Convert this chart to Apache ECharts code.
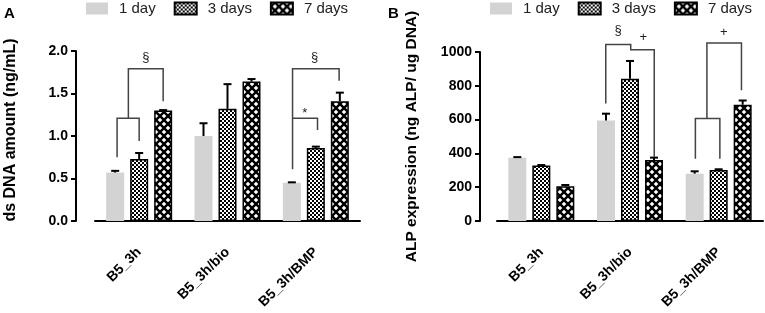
<!DOCTYPE html>
<html>
<head>
<meta charset="utf-8">
<script src="https://cdn.jsdelivr.net/npm/echarts@6/dist/echarts.min.js"></script>
<style>
  html, body { margin: 0; padding: 0; background: #fff; }
  #chart { width: 765px; height: 313px; }
</style>
</head>
<body>
<div id="chart"></div>
<script>
// categories and groups
const categories = ['B5_3h', 'B5_3h/bio', 'B5_3h/BMP'];
const groupNames = ['1 day', '3 days', '7 days'];

// panel A: ds DNA amount (ng/mL)
const dnaDay1 = [0.57, 1.00, 0.45];
const dnaDay3 = [0.73, 1.32, 0.86];
const dnaDay7 = [1.30, 1.64, 1.41];
const dnaErr1 = [0.02, 0.15, 0.005];
const dnaErr3 = [0.07, 0.29, 0.015];
const dnaErr7 = [0.005, 0.03, 0.10];
const dnaTicks = [0, 2, 0.5];      // min, max, step

// panel B: ALP expression (ng ALP/ ug DNA)
const alpDay1 = [375, 595, 280];
const alpDay3 = [328, 842, 302];
const alpDay7 = [205, 361, 688];
const alpErr1 = [3, 40, 14];
const alpErr3 = [3, 105, 4];
const alpErr7 = [8, 14, 25];
const alpTicks = [0, 1000, 200];

// significance brackets: [bar slot, value] points, slot -1/0/1 = bar in group
const bracketsA = [
  { cat: 0, pts: [[-0.92, 0.75], [-0.92, 1.21], [0.0, 1.21], [0.0, 0.94]] },
  { cat: 0, pts: [[-0.45, 1.21], [-0.45, 1.79], [1.0, 1.79], [1.0, 1.41]] },
  { cat: 2, pts: [[-0.97, 0.61], [-0.97, 1.79], [0.97, 1.79], [0.97, 1.65]] },
  { cat: 2, pts: [[-0.97, 1.21], [0.07, 1.21], [0.07, 1.07]] }
];
const marksA = [
  { cat: 0, at: [0.28, 1.93], text: '§' },
  { cat: 2, at: [-0.05, 1.93], text: '§' },
  { cat: 2, at: [-0.46, 1.27], text: '*' }
];
const bracketsB = [
  { cat: 1, pts: [[-1.01, 695], [-1.01, 1044], [0.03, 1044], [0.03, 1014], [1.01, 1014], [1.01, 378]] },
  { cat: 2, pts: [[-0.97, 369], [-0.97, 606], [0.05, 606], [0.05, 369]] },
  { cat: 2, pts: [[-0.49, 606], [-0.49, 1053], [0.95, 1053], [0.95, 773]] }
];
const marksB = [
  { cat: 1, at: [-0.5, 1128], text: '§' },
  { cat: 1, at: [0.55, 1089], text: '+' },
  { cat: 2, at: [0.21, 1118], text: '+' }
];

const FONT = 'Arial, "Liberation Sans", sans-serif';
const BAR_W = 18;
const BAR_GAP = 6;
const SLOT = BAR_W + BAR_GAP;

function checkerPattern() {
  const c = document.createElement('canvas');
  c.width = 4; c.height = 4;
  const g = c.getContext('2d');
  g.fillStyle = '#fff'; g.fillRect(0, 0, 4, 4);
  g.fillStyle = '#000'; g.fillRect(0, 0, 2, 2); g.fillRect(2, 2, 2, 2);
  return c;
}

function diamondPattern() {
  const c = document.createElement('canvas');
  c.width = 8; c.height = 8;
  const g = c.getContext('2d');
  g.fillStyle = '#000'; g.fillRect(0, 0, 8, 8);
  g.fillStyle = '#fff';
  [[0, 0], [8, 0], [0, 8], [8, 8], [4, 4]].forEach(function (p) {
    g.beginPath();
    g.moveTo(p[0], p[1] - 2.3); g.lineTo(p[0] + 2.3, p[1]);
    g.lineTo(p[0], p[1] + 2.3); g.lineTo(p[0] - 2.3, p[1]);
    g.closePath(); g.fill();
  });
  return c;
}

const styles = [
  { color: '#d3d3d3' },
  { color: { image: checkerPattern(), repeat: 'repeat' }, borderColor: '#000', borderWidth: 1.5 },
  { color: { image: diamondPattern(), repeat: 'repeat' }, borderColor: '#000', borderWidth: 1.5 }
];

function barSeries(values, idx, grid) {
  return {
    name: groupNames[idx], type: 'bar',
    xAxisIndex: grid, yAxisIndex: grid,
    barWidth: BAR_W, barGap: (BAR_GAP / BAR_W * 100) + '%',
    itemStyle: styles[idx],
    data: values, silent: true
  };
}

function errorSeries(values, errs, idx, grid) {
  return {
    type: 'custom', xAxisIndex: grid, yAxisIndex: grid, silent: true, z: 4,
    data: values.map(function (v, i) { return [i, v, errs[i]]; }),
    renderItem: function (params, api) {
      const base = api.coord([api.value(0), api.value(1)]);
      const top = api.coord([api.value(0), api.value(1) + api.value(2)]);
      const x = base[0] + (idx - 1) * SLOT;
      return {
        type: 'group', children: [
          { type: 'line', shape: { x1: x, y1: base[1], x2: x, y2: top[1] }, style: { stroke: '#000', lineWidth: 2 } },
          { type: 'line', shape: { x1: x - 4, y1: top[1], x2: x + 4, y2: top[1] }, style: { stroke: '#000', lineWidth: 2 } }
        ]
      };
    }
  };
}

function bracketSeries(list, marks, grid) {
  const items = list.map(function (b) { return { kind: 'line', b: b }; })
    .concat(marks.map(function (m) { return { kind: 'text', b: m }; }));
  return {
    type: 'custom', xAxisIndex: grid, yAxisIndex: grid, silent: true, z: 5,
    data: items.map(function (it) { return [it.b.cat, 0]; }),
    renderItem: function (params, api) {
      const it = items[params.dataIndex];
      const b = it.b;
      if (it.kind === 'line') {
        const pts = b.pts.map(function (p) {
          const c = api.coord([b.cat, p[1]]);
          return [c[0] + p[0] * SLOT, c[1]];
        });
        return { type: 'polyline', shape: { points: pts }, style: { stroke: '#444', lineWidth: 1.5, fill: null } };
      }
      const c = api.coord([b.cat, b.at[1]]);
      return {
        type: 'text',
        style: {
          x: c[0] + b.at[0] * SLOT, y: c[1], text: b.text,
          fill: '#222', font: '13px ' + FONT, align: 'center', verticalAlign: 'middle'
        }
      };
    }
  };
}

function legendFor(left) {
  return {
    left: left, top: 1, padding: 0, icon: 'rect', itemWidth: 22, itemHeight: 12, itemGap: 18,
    data: groupNames,
    textStyle: { fontSize: 15, color: '#222', fontFamily: FONT, padding: [0, 0, 0, 6] }
  };
}

function yAxisFor(grid, ticks, name, gap, namePad, nameSize, digits) {
  return {
    gridIndex: grid, type: 'value', min: ticks[0], max: ticks[1], interval: ticks[2],
    offset: grid === 0 ? 19 : 17,
    name: name, nameLocation: 'middle', nameGap: gap,
    nameTextStyle: { fontSize: nameSize, fontWeight: 'bold', color: '#000', fontFamily: FONT, padding: namePad },
    axisLine: { show: true, lineStyle: { color: '#000', width: 2 } },
    axisTick: { show: true, length: 5, lineStyle: { color: '#000', width: 2 } },
    axisLabel: {
      fontSize: 14, fontWeight: 'bold', color: '#000', fontFamily: FONT, margin: 8,
      formatter: function (v) { return v.toFixed(digits); }
    },
    splitLine: { show: false }
  };
}

function xAxisFor(grid) {
  return {
    gridIndex: grid, type: 'category', data: categories, offset: 19,
    axisLine: { lineStyle: { color: '#000', width: 2 } },
    axisTick: { alignWithLabel: true, length: 5, lineStyle: { color: '#000', width: 2 } },
    axisLabel: { rotate: 45, interval: 0, margin: 10, fontSize: 14, fontWeight: 'bold', color: '#000', fontFamily: FONT }
  };
}

const chart = echarts.init(document.getElementById('chart'), null, { renderer: 'canvas' });

chart.setOption({
  animation: false,
  title: [
    { text: 'A', left: 4, top: 6, padding: 0, textStyle: { fontSize: 15, fontWeight: 'bold', color: '#000', fontFamily: FONT } },
    { text: 'B', left: 388, top: 6, padding: 0, textStyle: { fontSize: 15, fontWeight: 'bold', color: '#000', fontFamily: FONT } }
  ],
  legend: [legendFor(86), legendFor(490)],
  grid: [
    { left: 95, top: 51, width: 265, bottom: 92 },
    { left: 497, top: 52, width: 266, bottom: 92 }
  ],
  xAxis: [xAxisFor(0), xAxisFor(1)],
  yAxis: [
    yAxisFor(0, dnaTicks, 'ds DNA amount (ng/mL)', 57, [0, 0, 0, 12], 16, 1),
    yAxisFor(1, alpTicks, 'ALP expression (ng ALP/ ug DNA)', 60, 0, 15.5, 0)
  ],
  series: [
    barSeries(dnaDay1, 0, 0), barSeries(dnaDay3, 1, 0), barSeries(dnaDay7, 2, 0),
    errorSeries(dnaDay1, dnaErr1, 0, 0), errorSeries(dnaDay3, dnaErr3, 1, 0), errorSeries(dnaDay7, dnaErr7, 2, 0),
    bracketSeries(bracketsA, marksA, 0),
    barSeries(alpDay1, 0, 1), barSeries(alpDay3, 1, 1), barSeries(alpDay7, 2, 1),
    errorSeries(alpDay1, alpErr1, 0, 1), errorSeries(alpDay3, alpErr3, 1, 1), errorSeries(alpDay7, alpErr7, 2, 1),
    bracketSeries(bracketsB, marksB, 1)
  ]
});
</script>
</body>
</html>
